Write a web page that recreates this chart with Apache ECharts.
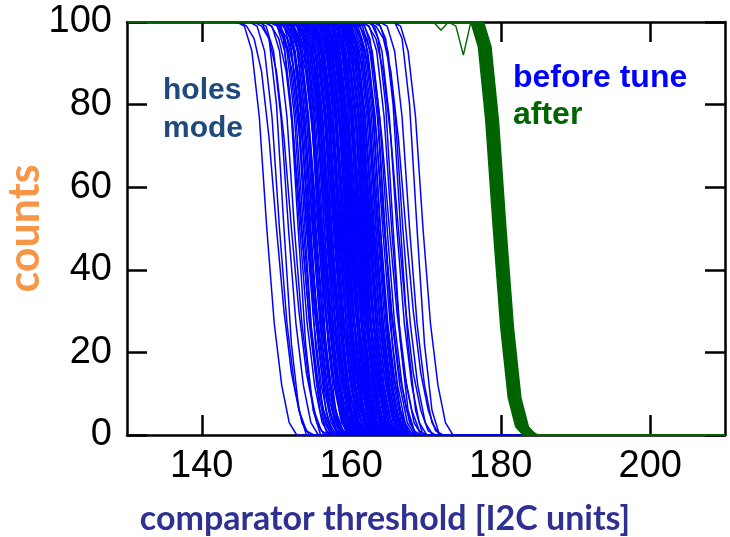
<!DOCTYPE html>
<html>
<head>
<meta charset="utf-8">
<script src="https://cdn.jsdelivr.net/npm/echarts@6/dist/echarts.min.js"></script>
<style>
  html, body { margin: 0; padding: 0; background: #fff; }
  #chart { width: 730px; height: 537px; }
</style>
</head>
<body>
<div id="chart"></div>
<script>
/* axis ranges and ticks */
const X_MIN = 130
const X_MAX = 210
const xTicks = [140, 160, 180, 200]
const yTicks = [0, 20, 40, 60, 80, 100]

/* s-curve shapes: offset from the 50% point -> counts */
const midShapeDx   = [-4, -3, -2, -1, 0, 1, 2, 3, 4]
const midShapeY    = [100, 99, 93, 77, 50, 27, 12, 3, 0]
const steepShapeDx = [-3, -2, -1, 0, 1, 2, 3]
const steepShapeY  = [100, 96, 80, 50, 22, 6, 0]
const softShapeDx  = [-5, -4, -3, -2, -1, 0, 1, 2, 3, 4, 5]
const softShapeY   = [100, 99, 96, 88, 72, 50, 30, 15, 6, 1, 0]
const greenShapeDx = [-3, -2, -1, 0, 1, 2, 3, 4]
const greenShapeY  = [100, 94, 76, 50, 26, 9, 2, 0]

/* 50% points of each channel before tune, grouped by how sharp the edge is */
const blueMidA = [
  148.7, 150.4, 151.6, 152.4, 153.1, 153.4, 153.6, 154.0, 154.3, 154.5,
  154.8, 155.0, 155.2, 155.3, 155.7, 155.8, 156.0, 156.2, 156.4, 156.6,
  156.8, 156.9, 157.1, 157.2, 157.4, 157.6, 157.7, 157.9, 158.0, 158.1,
  158.3, 158.4, 158.6, 158.8, 158.9, 159.0, 159.1, 159.3, 159.4, 159.5,
  159.7, 159.8, 159.9, 160.0, 160.1, 160.3, 160.4, 160.5, 160.7, 160.9,
  161.0, 161.1, 161.2, 161.3, 161.5, 161.6, 161.7, 161.9, 162.0, 162.1,
  162.3, 162.4, 162.6, 162.8, 162.9, 163.1, 163.3, 163.5, 163.7, 163.9,
  164.2, 164.5, 164.8, 165.4, 166.1, 166.9, 167.8, 169.6
]
const blueMidB = [
  151.0, 152.9, 153.8, 154.2, 154.6, 155.1, 155.6, 155.9, 156.4, 156.7,
  157.0, 157.4, 157.8, 158.0, 158.5, 158.9, 159.3, 159.6, 160.0, 160.2,
  160.6, 160.9, 161.5, 161.8, 162.2, 162.5, 163.3, 163.9, 164.5, 165.6,
  166.6, 168.8
]
const blueMidC = [
  150.0, 152.0, 153.3, 154.1, 154.4, 154.9, 155.5, 155.9, 156.1, 156.7,
  157.0, 157.3, 157.8, 158.2, 158.5, 158.7, 159.2, 159.6, 159.8, 160.2,
  160.5, 160.8, 161.4, 161.8, 162.4, 162.7, 163.0, 163.6, 164.4, 165.1,
  166.3, 167.3
]

/* 50% points of each channel after tune */
const greenMid = [
  179.0, 179.1, 179.2, 179.2, 179.3, 179.3, 179.4, 179.4, 179.5, 179.5,
  179.5, 179.6, 179.6, 179.6, 179.7, 179.7, 179.7, 179.8, 179.8, 179.8,
  179.9, 179.9, 179.9, 180.0, 180.0, 180.0, 180.1, 180.1, 180.2, 180.2,
  180.3, 180.3, 180.4, 180.5, 180.6, 180.7
]

/* one after-tune channel with a glitch near 175 */
const greenOddX = [X_MIN, 171, 172, 173, 174, 175, 176, 177, 178, 179, 180, 181, 182, 183, 184, 185, X_MAX]
const greenOddY = [100, 100, 98, 100, 99, 92, 100, 97, 88, 66, 40, 20, 7, 2, 1, 0, 0]

const FONT = 'Liberation Sans, Arial, sans-serif'
const BLUE = '#0000ff'
const GREEN = '#006400'

function curve (mid, dx, ys) {
  return [[X_MIN, 100]].concat(dx.map((d, i) => [mid + d, ys[i]]), [[X_MAX, 0]])
}

function lineSeries (data, color, width) {
  return {
    type: 'line', data, symbol: 'none', silent: true, clip: false,
    lineStyle: { color, width }
  }
}

const series = []
blueMidA.forEach(m => series.push(lineSeries(curve(m, midShapeDx, midShapeY), BLUE, 1.5)))
blueMidB.forEach(m => series.push(lineSeries(curve(m, steepShapeDx, steepShapeY), BLUE, 1.5)))
blueMidC.forEach(m => series.push(lineSeries(curve(m, softShapeDx, softShapeY), BLUE, 1.5)))
greenMid.forEach(m => series.push(lineSeries(curve(m, greenShapeDx, greenShapeY), GREEN, 1.4)))
series.push(lineSeries(greenOddX.map((x, i) => [x, greenOddY[i]]), GREEN, 1.4))

const axisLine = { show: true, onZero: false, lineStyle: { color: '#000', width: 2.5 } }
const tickIn = { inside: true, length: 20, lineStyle: { color: '#000', width: 2.5 } }

const chart = echarts.init(document.getElementById('chart'))
chart.setOption({
  animation: false,
  grid: { left: 127, right: 5, top: 22, bottom: 102, containLabel: false, outerBoundsMode: 'none' },
  xAxis: [{
    type: 'value', min: X_MIN, max: X_MAX, position: 'bottom',
    axisLine, splitLine: { show: false },
    axisTick: Object.assign({ customValues: xTicks }, tickIn),
    axisLabel: { customValues: xTicks, color: '#000', fontSize: 38, fontFamily: FONT, margin: 13 },
    name: 'comparator threshold [I2C units]', nameLocation: 'middle', nameGap: 67, nameMoveOverlap: false,
    /* title sits left of the plot centre in the original */
    nameTextStyle: { color: '#2e3192', fontSize: 34, fontWeight: 'bold', fontFamily: 'Lato, sans-serif', padding: [0, 82, 0, 0] }
  }, {
    type: 'value', min: X_MIN, max: X_MAX, position: 'top',
    axisLine, splitLine: { show: false },
    axisTick: Object.assign({ customValues: xTicks }, tickIn),
    axisLabel: { show: false }
  }],
  yAxis: [{
    type: 'value', min: 0, max: 100, interval: 20, position: 'left',
    axisLine, splitLine: { show: false },
    axisTick: Object.assign({ customValues: yTicks }, tickIn),
    axisLabel: { customValues: yTicks, color: '#000', fontSize: 38, fontFamily: FONT, margin: 15 },
    name: 'counts', nameLocation: 'middle', nameGap: 80, nameMoveOverlap: false,
    nameTextStyle: { color: '#f79646', fontSize: 43, fontWeight: 'bold', fontFamily: 'Lato, sans-serif' }
  }, {
    type: 'value', min: 0, max: 100, interval: 20, position: 'right',
    axisLine, splitLine: { show: false },
    axisTick: Object.assign({ customValues: yTicks }, tickIn),
    axisLabel: { show: false }
  }],
  graphic: [
    { type: 'text', left: 163, top: 72, z: 100,
      style: { text: 'holes\nmode', fill: '#1f497d', fontFamily: FONT, fontWeight: 'bold', fontSize: 30, lineHeight: 38 } },
    { type: 'text', left: 513, top: 62, z: 100,
      style: { text: 'before tune', fill: BLUE, fontFamily: FONT, fontWeight: 'bold', fontSize: 32 } },
    { type: 'text', left: 513, top: 99, z: 100,
      style: { text: 'after', fill: GREEN, fontFamily: FONT, fontWeight: 'bold', fontSize: 32 } }
  ],
  series
})
</script>
</body>
</html>
